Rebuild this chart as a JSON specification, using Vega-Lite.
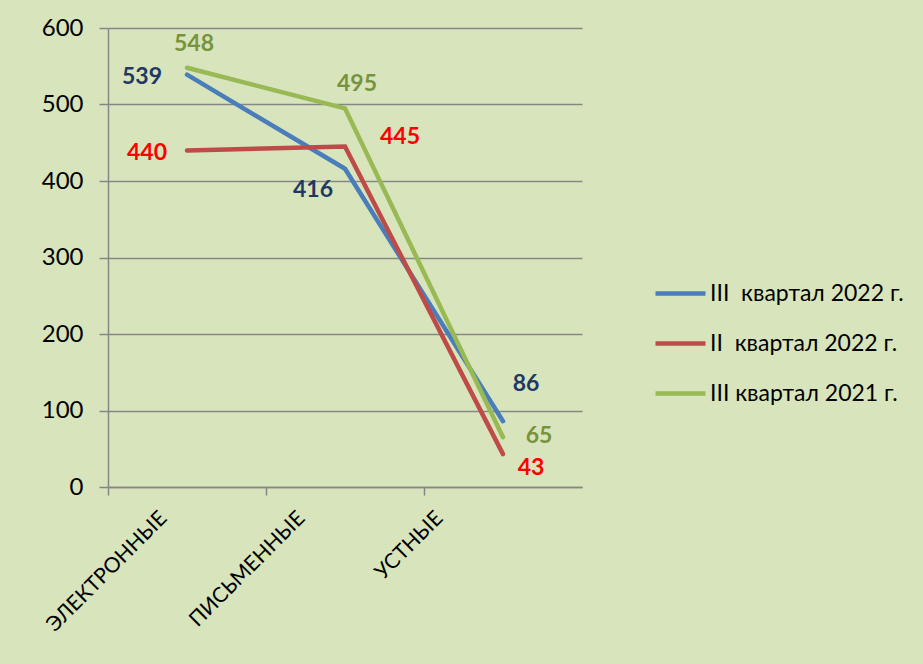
{
  "$schema": "https://vega.github.io/schema/vega-lite/v6.json",
  "width": 474,
  "height": 459,
  "autosize": {"type": "none"},
  "padding": {"left": 108, "top": 28, "right": 341, "bottom": 177},
  "background": "#D8E4BC",
  "config": {"view": {"stroke": null}, "font": "Lato"},
  "data": {
    "values": [
      {"category": "ЭЛЕКТРОННЫЕ", "series": "III\u00a0 квартал 2022 г.", "value": 539},
      {"category": "ПИСЬМЕННЫЕ", "series": "III\u00a0 квартал 2022 г.", "value": 416},
      {"category": "УСТНЫЕ", "series": "III\u00a0 квартал 2022 г.", "value": 86},
      {"category": "ЭЛЕКТРОННЫЕ", "series": "II\u00a0 квартал 2022 г.", "value": 440},
      {"category": "ПИСЬМЕННЫЕ", "series": "II\u00a0 квартал 2022 г.", "value": 445},
      {"category": "УСТНЫЕ", "series": "II\u00a0 квартал 2022 г.", "value": 43},
      {"category": "ЭЛЕКТРОННЫЕ", "series": "III квартал 2021 г.", "value": 548},
      {"category": "ПИСЬМЕННЫЕ", "series": "III квартал 2021 г.", "value": 495},
      {"category": "УСТНЫЕ", "series": "III квартал 2021 г.", "value": 65}
    ]
  },
  "encoding": {
    "x": {
      "field": "category",
      "type": "nominal",
      "bandPosition": 0.5,
      "sort": ["ЭЛЕКТРОННЫЕ", "ПИСЬМЕННЫЕ", "УСТНЫЕ"],
      "scale": {"type": "band", "paddingInner": 0, "paddingOuter": 0},
      "axis": {
        "title": null,
        "bandPosition": 0,
        "grid": false,
        "ticks": true,
        "tickSize": 8,
        "tickColor": "#868686",
        "tickWidth": 1.5,
        "domainColor": "#868686",
        "domainWidth": 1.5,
        "labelAngle": -45,
        "labelAlign": "right",
        "labelBaseline": "top",
        "labelFontSize": 21,
        "labelFont": "Lato",
        "labelColor": "#000000",
        "labelPadding": 12,
        "labelLimit": 400,
        "labelOffset": {
          "condition": [
            {"test": "datum.value === 'ПИСЬМЕННЫЕ'", "value": -51},
            {"test": "datum.value === 'УСТНЫЕ'", "value": -71}
          ],
          "value": -31
        }
      }
    },
    "y": {
      "field": "value",
      "type": "quantitative",
      "scale": {"domain": [0, 600], "nice": false},
      "axis": {
        "title": null,
        "values": [0, 100, 200, 300, 400, 500, 600],
        "grid": true,
        "gridColor": "#868686",
        "gridWidth": 1.5,
        "domainColor": "#868686",
        "domainWidth": 1.5,
        "tickColor": "#868686",
        "tickWidth": 1.5,
        "tickSize": 9,
        "labelFontSize": 24,
        "labelFont": "Lato",
        "labelColor": "#000000",
        "labelPadding": 16
      }
    }
  },
  "layer": [
    {
      "mark": {"type": "line", "strokeWidth": 4.5, "strokeCap": "round", "strokeJoin": "miter"},
      "encoding": {
        "color": {
          "field": "series",
          "type": "nominal",
          "scale": {
            "domain": ["III\u00a0 квартал 2022 г.", "II\u00a0 квартал 2022 г.", "III квартал 2021 г."],
            "range": ["#4A7EBB", "#BE4B48", "#98B954"]
          },
          "legend": {
            "orient": "none",
            "legendX": 545,
            "legendY": 238,
            "title": null,
            "symbolType": "stroke",
            "symbolSize": 2500,
            "symbolStrokeWidth": 4.5,
            "labelFontSize": 23,
            "labelFont": "Lato",
            "labelColor": "#000000",
            "labelOffset": 2,
            "rowPadding": 10,
            "labelLimit": 300
          }
        }
      }
    },
    {"transform": [{"filter": "datum.value === 539"}], "mark": {"type": "text", "dx": -45, "dy": 2, "fontSize": 23, "fontWeight": "bold", "color": "#1F3864"}, "encoding": {"text": {"field": "value"}}},
    {"transform": [{"filter": "datum.value === 416"}], "mark": {"type": "text", "dx": -32, "dy": 21, "fontSize": 23, "fontWeight": "bold", "color": "#1F3864"}, "encoding": {"text": {"field": "value"}}},
    {"transform": [{"filter": "datum.value === 86"}], "mark": {"type": "text", "dx": 23, "dy": -37, "fontSize": 23, "fontWeight": "bold", "color": "#1F3864"}, "encoding": {"text": {"field": "value"}}},
    {"transform": [{"filter": "datum.value === 440"}], "mark": {"type": "text", "dx": -40, "dy": 3, "fontSize": 23, "fontWeight": "bold", "color": "#FF0000"}, "encoding": {"text": {"field": "value"}}},
    {"transform": [{"filter": "datum.value === 445"}], "mark": {"type": "text", "dx": 55, "dy": -10, "fontSize": 23, "fontWeight": "bold", "color": "#FF0000"}, "encoding": {"text": {"field": "value"}}},
    {"transform": [{"filter": "datum.value === 43"}], "mark": {"type": "text", "dx": 28, "dy": 14, "fontSize": 23, "fontWeight": "bold", "color": "#FF0000"}, "encoding": {"text": {"field": "value"}}},
    {"transform": [{"filter": "datum.value === 548"}], "mark": {"type": "text", "dx": 7, "dy": -24, "fontSize": 23, "fontWeight": "bold", "color": "#77933C"}, "encoding": {"text": {"field": "value"}}},
    {"transform": [{"filter": "datum.value === 495"}], "mark": {"type": "text", "dx": 12, "dy": -24, "fontSize": 23, "fontWeight": "bold", "color": "#77933C"}, "encoding": {"text": {"field": "value"}}},
    {"transform": [{"filter": "datum.value === 65"}], "mark": {"type": "text", "dx": 36, "dy": -1, "fontSize": 23, "fontWeight": "bold", "color": "#77933C"}, "encoding": {"text": {"field": "value"}}}
  ]
}
